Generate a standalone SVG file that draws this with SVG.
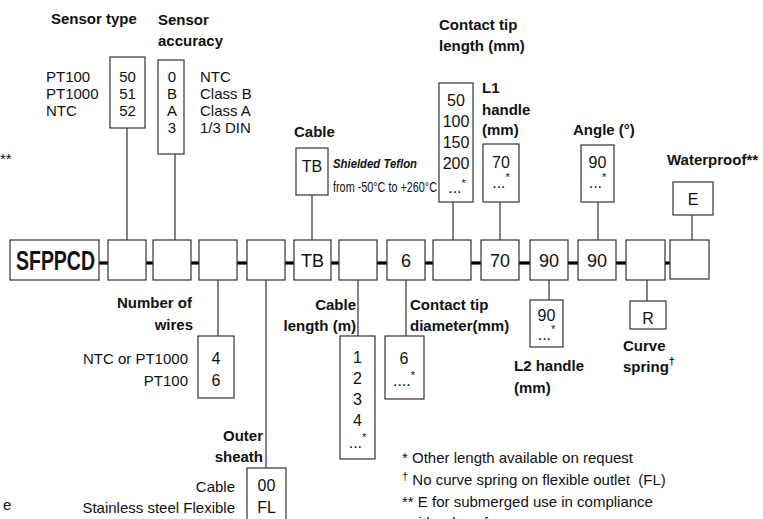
<svg xmlns="http://www.w3.org/2000/svg" width="763" height="519" viewBox="0 0 763 519">
<style>
text{font-family:"Liberation Sans",Arial,sans-serif;fill:#111}
.t{font-weight:bold;font-size:15px}
.r{font-size:15px}
.c{text-anchor:middle}
.e{text-anchor:end}
.bx{fill:#fff;stroke:#333;stroke-width:1.2}
.ln{stroke:#333;stroke-width:1.2;fill:none}
.ds{stroke:#000;stroke-width:3.2}
.m{font-size:18px;text-anchor:middle}
.o{font-size:16px;text-anchor:middle}
.s{font-size:11px}
</style>
<rect width="763" height="519" fill="#fff"/>
<g id="connectors">
<line class="ds" x1="99" y1="263" x2="108" y2="263"/>
<line class="ds" x1="146" y1="263" x2="153" y2="263"/>
<line class="ds" x1="191" y1="263" x2="199" y2="263"/>
<line class="ds" x1="237" y1="263" x2="247" y2="263"/>
<line class="ds" x1="285" y1="263" x2="294" y2="263"/>
<line class="ds" x1="331" y1="263" x2="339" y2="263"/>
<line class="ds" x1="377" y1="263" x2="387" y2="263"/>
<line class="ds" x1="425" y1="263" x2="433" y2="263"/>
<line class="ds" x1="471" y1="263" x2="481" y2="263"/>
<line class="ds" x1="519" y1="263" x2="530" y2="263"/>
<line class="ds" x1="568" y1="263" x2="578" y2="263"/>
<line class="ds" x1="616" y1="263" x2="626" y2="263"/>
<line class="ds" x1="665" y1="263" x2="670" y2="263"/>
<line class="ln" x1="127" y1="128" x2="127" y2="240"/>
<line class="ln" x1="175" y1="154" x2="175" y2="240"/>
<line class="ln" x1="312" y1="195" x2="312" y2="240"/>
<line class="ln" x1="453" y1="202" x2="453" y2="240"/>
<line class="ln" x1="500" y1="202" x2="500" y2="240"/>
<line class="ln" x1="598" y1="202" x2="598" y2="240"/>
<line class="ln" x1="692" y1="215" x2="692" y2="240"/>
<line class="ln" x1="218" y1="280" x2="218" y2="336"/>
<line class="ln" x1="266" y1="280" x2="266" y2="468"/>
<line class="ln" x1="358" y1="280" x2="358" y2="336"/>
<line class="ln" x1="406" y1="280" x2="406" y2="336"/>
<line class="ln" x1="549" y1="280" x2="549" y2="300"/>
<line class="ln" x1="647" y1="280" x2="647" y2="301"/>
</g>
<g id="code">
<rect class="bx" x="10" y="240" width="89" height="40"/>
<text x="16" y="270" font-size="27" font-weight="bold" textLength="79" lengthAdjust="spacingAndGlyphs">SFPPCD</text>
</g>
<g id="box1"><rect class="bx" x="108" y="240" width="38" height="40"/></g>
<g id="box2"><rect class="bx" x="153" y="240" width="38" height="40"/></g>
<g id="box3"><rect class="bx" x="199" y="240" width="38" height="40"/></g>
<g id="box4"><rect class="bx" x="247" y="240" width="38" height="40"/></g>
<g id="box5"><rect class="bx" x="294" y="240" width="37" height="40"/><text class="m" x="312.5" y="267">TB</text></g>
<g id="box6"><rect class="bx" x="339" y="240" width="38" height="40"/></g>
<g id="box7"><rect class="bx" x="387" y="240" width="38" height="40"/><text class="m" x="406" y="267">6</text></g>
<g id="box8"><rect class="bx" x="433" y="240" width="38" height="40"/></g>
<g id="box9"><rect class="bx" x="481" y="240" width="38" height="40"/><text class="m" x="500" y="267">70</text></g>
<g id="box10"><rect class="bx" x="530" y="240" width="38" height="40"/><text class="m" x="549" y="267">90</text></g>
<g id="box11"><rect class="bx" x="578" y="240" width="38" height="40"/><text class="m" x="597" y="267">90</text></g>
<g id="box12"><rect class="bx" x="626" y="240" width="39" height="40"/></g>
<g id="box13"><rect class="bx" x="670" y="240" width="39" height="39"/></g>

<g id="sensor-type">
<text class="t" x="51" y="24">Sensor type</text>
<rect class="bx" x="110" y="57" width="35" height="71"/>
<text class="r" x="46" y="82">PT100</text>
<text class="r" x="46" y="99">PT1000</text>
<text class="r" x="46" y="116">NTC</text>
<text class="r c" x="127.5" y="82">50</text>
<text class="r c" x="127.5" y="99">51</text>
<text class="r c" x="127.5" y="116">52</text>
</g>
<g id="sensor-accuracy">
<text class="t" x="158" y="25">Sensor</text>
<text class="t" x="158" y="46">accuracy</text>
<rect class="bx" x="158" y="60" width="26" height="94"/>
<text class="r c" x="172" y="82">0</text>
<text class="r c" x="172" y="99">B</text>
<text class="r c" x="172" y="116">A</text>
<text class="r c" x="172" y="133">3</text>
<text class="r" x="200" y="82">NTC</text>
<text class="r" x="200" y="99">Class B</text>
<text class="r" x="200" y="116">Class A</text>
<text class="r" x="200" y="133">1/3 DIN</text>
</g>
<g id="cable">
<text class="t" x="294" y="137">Cable</text>
<rect class="bx" x="296" y="148" width="32" height="47"/>
<text class="o" x="312" y="172">TB</text>
<text x="333" y="168" font-size="13" font-weight="bold" font-style="italic" textLength="84" lengthAdjust="spacingAndGlyphs">Shielded Teflon</text>
<text x="333" y="192" font-size="14" textLength="104" lengthAdjust="spacingAndGlyphs">from -50°C to +260°C</text>
</g>
<g id="contact-tip-length">
<text class="t" x="439" y="30">Contact tip</text>
<text class="t" x="439" y="51">length (mm)</text>
<rect class="bx" x="439" y="83" width="34" height="119"/>
<text class="o" x="456" y="106">50</text>
<text class="o" x="456" y="127">100</text>
<text class="o" x="456" y="148">150</text>
<text class="o" x="456" y="169">200</text>
<text class="o" x="457" y="193">...<tspan class="s" dy="-6">*</tspan></text>
</g>
<g id="l1-handle">
<text class="t" x="482" y="93">L1</text>
<text class="t" x="482" y="115">handle</text>
<text class="t" x="482" y="135">(mm)</text>
<rect class="bx" x="483" y="144" width="36" height="58"/>
<text class="o" x="501" y="168">70</text>
<text class="o" x="501" y="188">...<tspan class="s" dy="-7">*</tspan></text>
</g>
<g id="angle">
<text class="t" x="573" y="135">Angle (°)</text>
<rect class="bx" x="581" y="145" width="33" height="57"/>
<text class="o" x="597.5" y="168">90</text>
<text class="o" x="597.5" y="188">...<tspan class="s" dy="-7">*</tspan></text>
</g>
<g id="waterproof">
<text class="t" x="667" y="165">Waterproof**</text>
<rect class="bx" x="673" y="182" width="40" height="33"/>
<text class="o" x="693" y="205">E</text>
</g>
<g id="wires">
<text class="t e" x="192" y="308">Number of</text>
<text class="t e" x="193" y="330">wires</text>
<rect class="bx" x="198" y="336" width="36" height="62"/>
<text class="o" x="216" y="364">4</text>
<text class="o" x="216" y="386">6</text>
<text class="r e" x="188" y="364">NTC or PT1000</text>
<text class="r e" x="188" y="386">PT100</text>
</g>
<g id="outer-sheath">
<text class="t e" x="263" y="441">Outer</text>
<text class="t e" x="263" y="462">sheath</text>
<rect class="bx" x="247" y="468" width="39" height="60"/>
<text class="o" x="266.5" y="491">00</text>
<text class="o" x="266.5" y="513">FL</text>
<text class="r e" x="235" y="492">Cable</text>
<text class="r e" x="235" y="513">Stainless steel Flexible</text>
</g>
<g id="cable-length">
<text class="t e" x="356" y="310">Cable</text>
<text class="t e" x="356" y="331">length (m)</text>
<rect class="bx" x="340" y="336" width="35" height="123"/>
<text class="o" x="357.5" y="363">1</text>
<text class="o" x="357.5" y="384">2</text>
<text class="o" x="357.5" y="405">3</text>
<text class="o" x="357.5" y="426">4</text>
<text class="o" x="357.5" y="448">...<tspan class="s" dy="-7">*</tspan></text>
</g>
<g id="tip-diameter">
<text class="t" x="410" y="310">Contact tip</text>
<text class="t" x="410" y="331">diameter(mm)</text>
<rect class="bx" x="385" y="336" width="39" height="63"/>
<text class="o" x="404" y="364">6</text>
<text class="o" x="404" y="386">....<tspan class="s" dy="-7">*</tspan></text>
</g>
<g id="l2-handle">
<rect class="bx" x="530" y="300" width="33" height="47"/>
<text class="o" x="546.5" y="321">90</text>
<text class="o" x="546.5" y="340">...<tspan class="s" dy="-7">*</tspan></text>
<text class="t" x="514" y="371">L2 handle</text>
<text class="t" x="514" y="393">(mm)</text>
</g>
<g id="curve-spring">
<rect class="bx" x="630" y="301" width="36" height="28"/>
<text class="o" x="648" y="324">R</text>
<text class="t" x="623" y="351">Curve</text>
<text class="t" x="623" y="372">spring<tspan class="s" dy="-7">†</tspan></text>
</g>
<g id="notes">
<text class="r" x="402" y="463">* Other length available on request</text>
<text class="r" x="402" y="485" style="white-space:pre"><tspan class="s" dy="-5">†</tspan><tspan dy="5"> No curve spring on flexible outlet  (FL)</tspan></text>
<text class="r" x="402" y="507">** E for submerged use in compliance</text>
<text class="r" x="408" y="528">with rules of</text>
<text class="r" x="0" y="164">**</text>
<text class="r" x="3" y="510">e</text>
</g>
</svg>
